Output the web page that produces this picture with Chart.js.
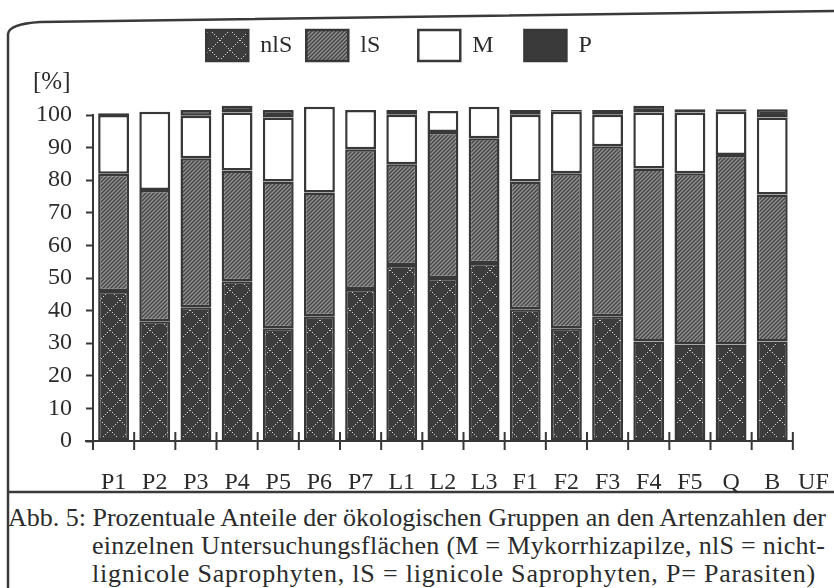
<!DOCTYPE html>
<html>
<head>
<meta charset="utf-8">
<script src="https://cdn.jsdelivr.net/npm/chart.js@4/dist/chart.umd.min.js"></script>
<style>
    body { margin: 0; background: #fff; width: 834px; height: 588px; overflow: hidden; position: relative;
           font-family: "Liberation Serif", serif; color: #2b2b2b; }
    #wrap { position: absolute; left: 0; top: 0; width: 834px; height: 497px; }
    #frame { position: absolute; left: 0; top: 0; }
    #pct { position: absolute; left: 33px; top: 67px; font-size: 25px; }
    .cap { position: absolute; font-size: 26px; white-space: nowrap; }
</style>
</head>
<body>
<svg id="frame" width="834" height="588">
    <path d="M8,588 L8,34 Q9,24 40,22 L834,11" fill="none" stroke="#3a3a3a" stroke-width="2.5"/>
    <line x1="8" y1="492" x2="834" y2="492" stroke="#3a3a3a" stroke-width="2.5"/>
</svg>
<div id="wrap"><canvas id="fungi"></canvas></div>
<div id="pct">[%]</div>
<div class="cap" style="left:8px; top:503px">Abb. 5: Prozentuale Anteile der ökologischen Gruppen an den Artenzahlen der</div>
<div class="cap" style="left:92px; top:531px; letter-spacing:0.3px">einzelnen Untersuchungsflächen (M = Mykorrhizapilze, nlS = nicht-</div>
<div class="cap" style="left:92px; top:559px; letter-spacing:0.8px">lignicole Saprophyten, lS = lignicole Saprophyten, P= Parasiten)</div>
<script>
// Untersuchungsflaechen
var areas = ['P1', 'P2', 'P3', 'P4', 'P5', 'P6', 'P7', 'L1', 'L2', 'L3', 'F1', 'F2', 'F3', 'F4', 'F5', 'Q', 'B', 'UF'];
// Anteile in %
var nlS = [46, 36.7, 41, 49, 34.6, 38.3, 46.6, 54, 50, 54.6, 40.4, 34.6, 38.3, 30.5, 29.6, 29.6, 30.5, null];
var lS  = [36, 40.3, 45.7, 34, 45, 37.9, 42.9, 30.9, 44.8, 38.3, 39.2, 47.5, 52.1, 53.1, 52.5, 58.1, 45.1, null];
var M   = [18, 24, 13.1, 17.8, 19.6, 26.3, 12, 15.2, 6.4, 9.6, 20.5, 18.9, 9.7, 17.2, 18.7, 13.3, 23.6, null];
var P   = [0.5, 0, 1.7, 2, 2.3, 0, 0, 1.4, 0, 0, 1.4, 0.5, 1.4, 2, 1, 0.8, 2.6, null];
var yTicks = [0, 10, 20, 30, 40, 50, 60, 70, 80, 90, 100];

var ink = '#383838';
var serif = '"Liberation Serif", "Times New Roman", serif';
// trailing space after each legend text, so the items sit like in the print
var legendTail = ['', '\u2003', '\u2002\u2009', '\u2003\u2002'];

// dotted cross hatch for nlS
function makeCross() {
    var c = document.createElement('canvas');
    c.width = 20; c.height = 20;
    var g = c.getContext('2d');
    g.fillStyle = '#3c3c3c';
    g.fillRect(0, 0, 20, 20);
    g.fillStyle = '#d0d0d0';
    for (var i = 0; i < 20; i += 2) {
        g.fillRect(i, i, 1, 1);
        g.fillRect(19 - i, i, 1, 1);
    }
    return g.createPattern(c, 'repeat');
}
// fine diagonal hatch for lS
function makeHatch() {
    var c = document.createElement('canvas');
    c.width = 4; c.height = 4;
    var g = c.getContext('2d');
    for (var x = 0; x < 4; x++) {
        for (var y = 0; y < 4; y++) {
            var k = (x + y) % 4;
            g.fillStyle = k == 0 ? '#929292' : (k == 2 ? '#4a4a4a' : '#686868');
            g.fillRect(x, y, 1, 1);
        }
    }
    return g.createPattern(c, 'repeat');
}

var ctx = document.getElementById('fungi').getContext('2d');

// extra room between legend and plot
const legendGap = {
    id: 'legendGap',
    beforeInit(chart) {
        const fit = chart.legend.fit;
        chart.legend.fit = function () { fit.call(this); this.height += 44; };
    }
};

// x axis line + ticks crossing it, only up to the last bar
const xAxisLine = {
    id: 'xAxisLine',
    afterDraw(chart) {
        const xs = chart.scales.x, area = chart.chartArea, c = chart.ctx;
        const half = (xs.getPixelForValue(1) - xs.getPixelForValue(0)) / 2;
        const end = xs.getPixelForValue(areas.length - 2) + half;
        c.save();
        c.strokeStyle = ink;
        c.lineWidth = 2;
        c.beginPath();
        c.moveTo(area.left - 8, area.bottom);
        c.lineTo(end, area.bottom);
        for (var i = 0; i < areas.length; i++) {
            const bx = xs.getPixelForValue(i) - half;
            c.moveTo(bx, area.bottom - 9);
            c.lineTo(bx, area.bottom + 9);
        }
        c.stroke();
        c.restore();
    }
};

function ds(label, data, fill) {
    return {
        label: label,
        data: data,
        backgroundColor: fill,
        borderColor: ink,
        borderWidth: 2.5,
        borderSkipped: false,
        categoryPercentage: 1,
        barPercentage: 0.75,
        clip: false
    };
}

new Chart(ctx, {
    type: 'bar',
    data: {
        labels: areas,
        datasets: [
            ds('nlS', nlS, makeCross()),
            ds('lS', lS, makeHatch()),
            ds('M', M, '#ffffff'),
            ds('P', P, '#3a3a3a')
        ]
    },
    plugins: [legendGap, xAxisLine],
    options: {
        responsive: true,
        maintainAspectRatio: false,
        animation: false,
        layout: { padding: { top: 16, left: 0, right: 0, bottom: 0 } },
        plugins: {
            legend: {
                display: true,
                labels: {
                    boxWidth: 42,
                    boxHeight: 31,
                    padding: 14,
                    color: '#2b2b2b',
                    font: { family: serif, size: 24 },
                    generateLabels: function (chart) {
                        var items = Chart.defaults.plugins.legend.labels.generateLabels(chart);
                        items.forEach((it, i) => { it.text = it.text + legendTail[i]; });
                        return items;
                    }
                }
            },
            tooltip: { enabled: false }
        },
        scales: {
            x: {
                stacked: true,
                afterFit: function (scale) {
                    scale.height = 56;
                    scale.paddingLeft = 0; scale.paddingRight = 0;
                    scale.paddingTop = 0; scale.paddingBottom = 0;
                },
                grid: { display: false, drawTicks: false },
                border: { display: false },
                ticks: {
                    color: '#2b2b2b',
                    padding: 27,
                    maxRotation: 0,
                    autoSkip: false,
                    font: { family: serif, size: 24 }
                }
            },
            y: {
                stacked: true,
                min: 0,
                max: 100,
                afterFit: function (scale) { scale.width = 93; },
                afterBuildTicks: function (scale) { scale.ticks = yTicks.map(v => ({ value: v })); },
                grid: {
                    drawOnChartArea: false,
                    tickLength: 7,
                    tickWidth: 2,
                    tickColor: ink
                },
                border: { display: true, color: ink, width: 2 },
                ticks: {
                    color: '#2b2b2b',
                    padding: 14,
                    autoSkip: false,
                    font: { family: serif, size: 24 }
                }
            }
        }
    }
});
</script>
</body>
</html>
